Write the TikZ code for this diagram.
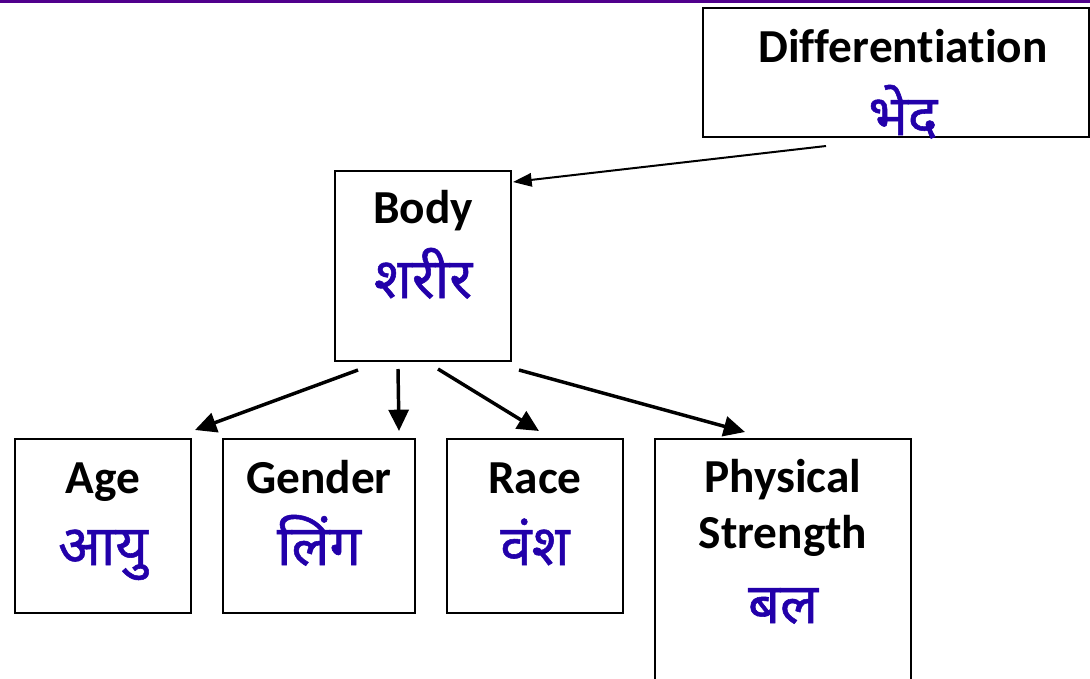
\documentclass[tikz,border=0pt]{standalone}
\usepackage{fontspec}
\usepackage{tikz}
\usetikzlibrary{arrows.meta,calc}
\setmainfont{Carlito}[Ligatures=NoCommon]
\newfontfamily\hindifont[Script=Devanagari, FakeBold=1]{Noto Sans}
\definecolor{hiblue}{RGB}{34, 0, 170}
\definecolor{toppurple}{RGB}{80, 0, 140}

\tikzset{
  blk/.style={draw, line width=1.5pt, anchor=north west, inner sep=0pt},
  entxt/.style={font=\fontsize{35.5}{40}\selectfont\bfseries, anchor=base, inner sep=0pt},
  hitxt/.style={font=\fontsize{42}{46}\hindifont, text=hiblue, anchor=base, inner sep=0pt},
  arr/.style={-{Triangle[length=16pt,width=15pt]}, line width=2.6pt},
  thinarr/.style={-{Triangle[length=14pt,width=10pt]}, line width=1.5pt}
}

\begin{document}
\begin{tikzpicture}[x=0.75pt, y=-0.75pt]
\useasboundingbox (0,0) rectangle (1090,679);
% thin rule along the top
\fill[toppurple] (0,0) rectangle (1090,2.5);

% top boxes
\node[blk, minimum width=386*0.75pt, minimum height=129*0.75pt] (diff) at (702,7) {};
\node[entxt] (diffen) at ($(diff.north)+(7,55)$) {Differentiation};
\node[hitxt] (diffhi) at ($(diff.north)+(7,128)$) {भेद};

\node[blk, minimum width=176*0.75pt, minimum height=190*0.75pt] (body) at (334,170) {};
\node[entxt] (bodyen) at ($(body.north)+(0,53)$) {Body};
\node[hitxt] (bodyhi) at ($(body.north)+(0,128)$) {शरीर};

% lower row
\foreach \nm/\xx/\ww/\en/\hi in {age/14/176/Age/आयु, gender/222/192/Gender/लिंग, race/446/176/Race/वंश} {
  \node[blk, minimum width=\ww*0.75pt, minimum height=174*0.75pt] (\nm) at (\xx,438) {};
  \node[entxt] (\nm en) at ($(\nm.north)+(0,55)$) {\en};
  \node[hitxt] (\nm hi) at ($(\nm.north)+(0,127)$) {\hi};
}

\node[blk, minimum width=256*0.75pt, minimum height=260*0.75pt] (phys) at (654,438) {};
\node[entxt] (physen) at ($(phys.north)+(0,54)$) {Physical};
\node[entxt] (physen2) at ($(phys.north)+(0,110)$) {Strength};
\node[hitxt] (physhi) at ($(phys.north)+(0,185)$) {बल};

% connectors
\draw[thinarr] ($(diff.south)+(-70,8)$) -- ($(body.north east)+(1,12)$);
\draw[arr] ($(body.south)+(-65,8)$) -- ($(age.north east)+(3,-8)$);
\draw[arr] ($(body.south)+(-25,7)$) -- ($(gender.north east)+(-17,-7)$);
\draw[arr] ($(body.south)+(15,7)$) -- ($(race.north)+(4,-7)$);
\draw[arr] ($(body.south)+(96,8)$) -- ($(phys.north)+(-38,-6)$);
\end{tikzpicture}
\end{document}
